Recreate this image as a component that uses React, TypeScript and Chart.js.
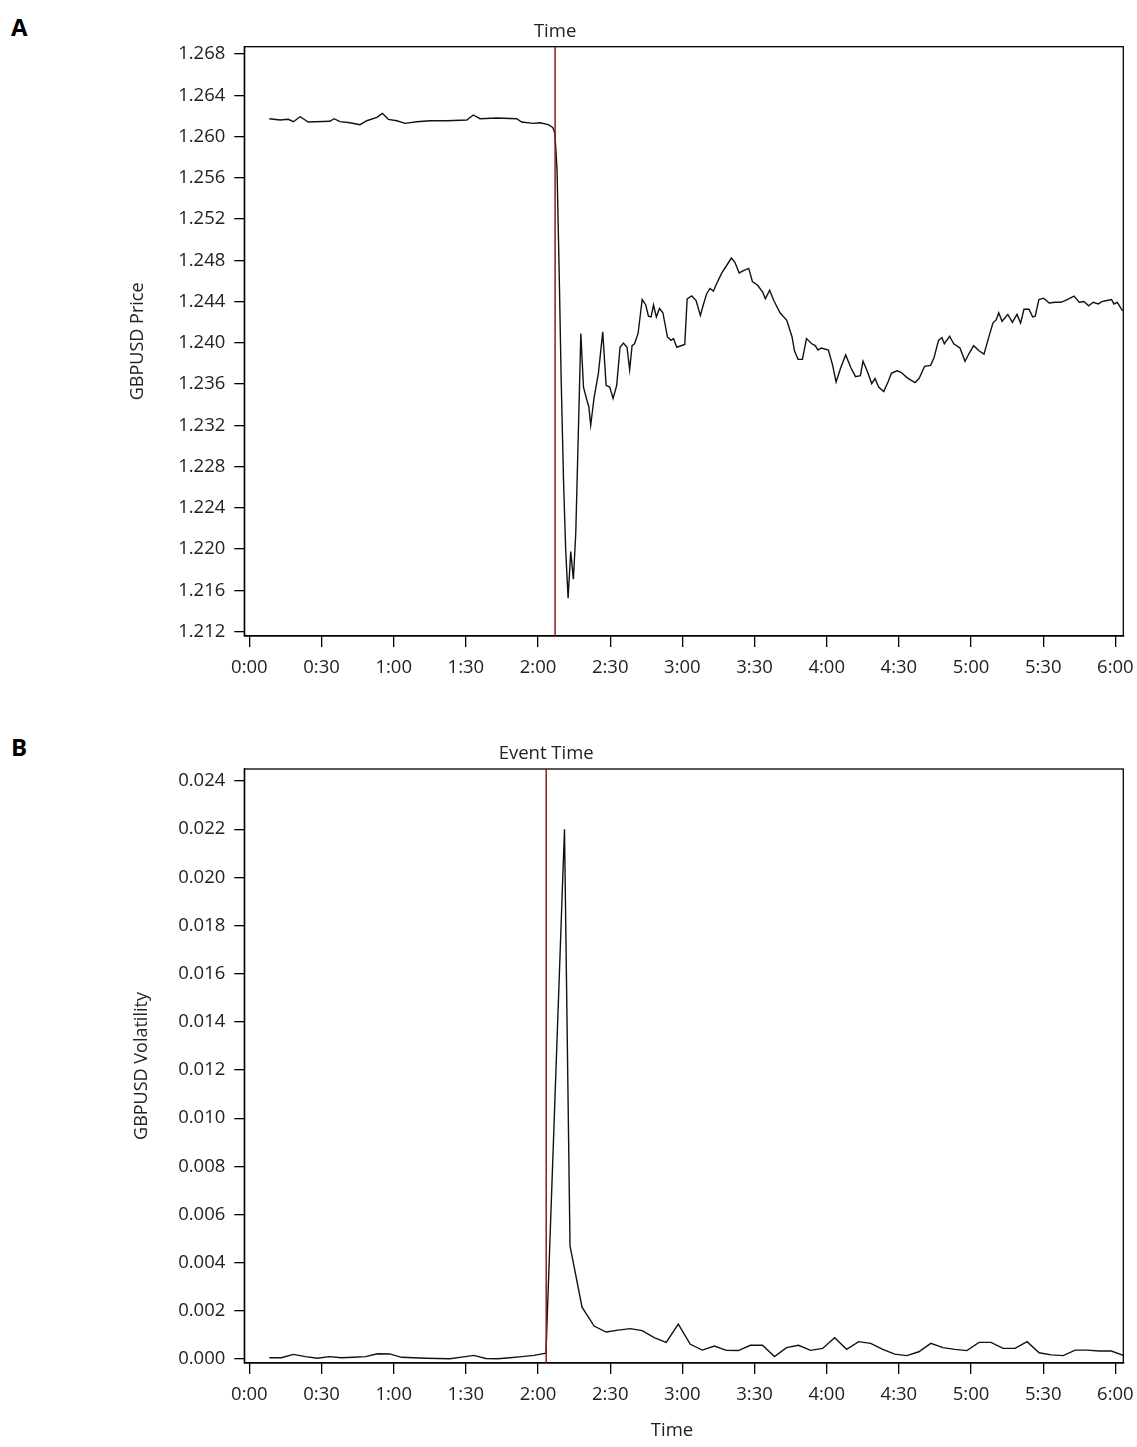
import React, { useEffect, useRef } from "react";
import { Chart, registerables } from "chart.js";
Chart.register(...registerables);

// ---- data (minutes after 0:00) ----
const priceMinutes = [8.3,12.8,16.2,18.3,21.1,24.5,33.5,35.2,37.7,41.9,46.0,48.8,53.0,55.3,57.8,61.3,64.7,69.6,75.1,82.0,90.4,93.1,95.9,102.8,111.1,113.2,118.0,120.8,124.3,126.1,127.0,127.9,128.8,129.6,130.6,131.5,132.5,133.6,134.7,135.7,136.8,137.8,138.9,140.4,141.1,141.9,143.3,145.1,146.9,148.3,149.8,151.2,152.7,154.1,155.5,157.0,158.1,159.1,160.1,161.6,163.3,164.8,165.9,167.0,168.0,169.2,170.5,171.9,173.8,175.3,176.3,177.7,181.0,182.0,183.9,185.7,187.5,188.6,190.1,191.5,192.9,194.0,196.4,197.8,200.4,201.9,203.6,205.4,207.6,209.1,211.2,213.4,214.5,216.3,218.0,220.6,223.4,225.6,226.6,228.1,229.9,231.6,233.8,235.2,236.4,237.8,240.7,242.4,243.9,245.8,247.9,250.1,252.0,254.0,255.1,256.8,258.7,260.1,261.6,263.7,265.5,266.9,269.2,270.9,273.5,276.7,278.4,280.7,283.2,284.6,286.5,287.9,288.9,291.1,292.8,295.4,297.5,299.4,301.1,303.3,305.4,307.2,309.1,310.5,311.5,312.9,315.3,317.2,319.1,320.6,322.0,324.1,325.6,326.7,328.2,330.2,332.5,335.0,337.4,340.0,342.8,345.0,346.9,348.9,350.8,352.9,354.4,356.5,358.4,359.4,360.8,363.0];
const priceValues = [1.26173,1.26160,1.26167,1.26144,1.26192,1.26141,1.26148,1.26173,1.26144,1.26134,1.26115,1.26153,1.26186,1.26225,1.26167,1.26153,1.26128,1.26144,1.26153,1.26153,1.26160,1.26209,1.26173,1.26180,1.26173,1.26141,1.26128,1.26134,1.26115,1.26089,1.26035,1.25683,1.24677,1.23671,1.22665,1.21994,1.21524,1.21976,1.21709,1.22162,1.23168,1.24090,1.23570,1.23436,1.23386,1.23201,1.23469,1.23704,1.24107,1.23588,1.23572,1.23461,1.23588,1.23957,1.23998,1.23957,1.23739,1.23973,1.23991,1.24091,1.24420,1.24367,1.24259,1.24252,1.24367,1.24252,1.24333,1.24292,1.24057,1.24024,1.24041,1.23957,1.23984,1.24427,1.24454,1.24410,1.24265,1.24359,1.24476,1.24527,1.24501,1.24561,1.24678,1.24728,1.24822,1.24779,1.24678,1.24701,1.24722,1.24595,1.24561,1.24493,1.24427,1.24510,1.24410,1.24292,1.24219,1.24057,1.23923,1.23840,1.23840,1.24041,1.23991,1.23973,1.23931,1.23950,1.23931,1.23789,1.23621,1.23756,1.23882,1.23756,1.23672,1.23682,1.23822,1.23729,1.23605,1.23654,1.23571,1.23527,1.23621,1.23705,1.23729,1.23715,1.23661,1.23615,1.23654,1.23773,1.23782,1.23856,1.24024,1.24051,1.23991,1.24064,1.23991,1.23950,1.23822,1.23906,1.23973,1.23923,1.23890,1.24041,1.24192,1.24225,1.24292,1.24209,1.24276,1.24198,1.24276,1.24192,1.24326,1.24326,1.24252,1.24259,1.24420,1.24433,1.24386,1.24393,1.24393,1.24420,1.24454,1.24393,1.24400,1.24359,1.24393,1.24377,1.24400,1.24410,1.24420,1.24377,1.24393,1.24309];

const volMinutes = [8.3,13.3,18.3,23.3,28.3,33.3,38.3,43.3,48.3,53.3,58.3,63.3,68.3,73.3,78.3,83.3,88.3,93.3,98.3,103.3,108.3,113.3,118.3,123.3,131.0,133.3,138.3,143.3,148.3,153.3,158.3,163.3,168.3,173.3,178.3,183.3,188.3,193.3,198.3,203.3,208.3,213.3,218.3,223.3,228.3,233.3,238.3,243.3,248.3,253.3,258.3,263.3,268.3,273.3,278.3,283.3,288.3,293.3,298.3,303.3,308.3,313.3,318.3,323.3,328.3,333.3,338.3,343.3,348.3,353.3,358.3,363.3];
const volValues = [0.00005,0.00005,0.00019,0.0001,0.00003,0.0001,0.00005,0.00007,0.0001,0.00022,0.00021,0.00007,0.00005,0.00003,0.00002,0.00001,0.00008,0.00015,0.00002,0.00001,0.00005,0.0001,0.00015,0.00024,0.0220,0.0047,0.00215,0.00137,0.00112,0.0012,0.00126,0.00118,0.00089,0.00069,0.00145,0.00061,0.00037,0.00054,0.00036,0.00035,0.00057,0.00057,0.0001,0.00047,0.00057,0.00036,0.00044,0.00088,0.0004,0.00072,0.00065,0.0004,0.0002,0.00014,0.0003,0.00065,0.00047,0.0004,0.00035,0.00069,0.00069,0.00044,0.00044,0.00072,0.00026,0.00017,0.00014,0.00037,0.00037,0.00033,0.00033,0.00015];

const timeTicks = [0,30,60,90,120,150,180,210,240,270,300,330,360];
const priceTicks = [1.212,1.216,1.220,1.224,1.228,1.232,1.236,1.240,1.244,1.248,1.252,1.256,1.260,1.264,1.268];
const volTicks = [0,0.002,0.004,0.006,0.008,0.010,0.012,0.014,0.016,0.018,0.020,0.022,0.024];
const priceEventMinute = 127.1;
const volEventMinute = 123.4;

const FONT = "'Open Sans', 'Noto Sans', sans-serif";
const TXT = "#222";
const FS = 18.5;

function fmtTime(m: number) {
  const h = Math.floor(m / 60);
  const mm = Math.round(m % 60);
  return h + ":" + (mm < 10 ? "0" : "") + mm;
}

type PanelCfg = {
  xs: number[]; ys: number[]; yTicks: number[]; yMin: number; yMax: number;
  eventMinute: number; topLabel: string; yTitle: string; yTitleX: number;
  padTop: number; padBottom: number; xAxisH: number; tickPad: number; bottomTitle?: string;
};

function makeChart(canvas: HTMLCanvasElement, c: PanelCfg) {
  const pts = c.xs.map((x, i) => ({ x, y: c.ys[i] }));
  const overlay = {
    id: "overlay",
    afterDraw(chart: any) {
      const { ctx, chartArea: a, scales } = chart;
      ctx.save();
      ctx.strokeStyle = "#000";
      ctx.lineWidth = 1.3;
      ctx.strokeRect(a.left, a.top, a.right - a.left, a.bottom - a.top);
      const ex = scales.x.getPixelForValue(c.eventMinute);
      ctx.strokeStyle = "#8b1a1a";
      ctx.lineWidth = 1.5;
      ctx.beginPath();
      ctx.moveTo(ex, a.top);
      ctx.lineTo(ex, a.bottom);
      ctx.stroke();
      ctx.fillStyle = TXT;
      ctx.font = FS + "px " + FONT;
      ctx.textAlign = "center";
      ctx.textBaseline = "middle";
      ctx.fillText(c.topLabel, ex, a.top - 15);
      ctx.save();
      ctx.translate(c.yTitleX, (a.top + a.bottom) / 2);
      ctx.rotate(-Math.PI / 2);
      ctx.font = "18px " + FONT;
      ctx.fillText(c.yTitle, 0, 0);
      ctx.restore();
      if (c.bottomTitle) {
        ctx.font = FS + "px " + FONT;
        ctx.fillText(c.bottomTitle, 672, a.bottom + 68);
      }
      ctx.restore();
    },
  };
  return new Chart(canvas, {
    type: "line",
    data: {
      datasets: [{
        data: pts,
        borderColor: "#111",
        borderWidth: 1.4,
        pointRadius: 0,
        tension: 0,
        fill: false,
      }],
    },
    options: {
      animation: false,
      responsive: false,
      maintainAspectRatio: false,
      layout: { padding: { left: 0, right: 13.7, top: c.padTop, bottom: c.padBottom } },
      plugins: { legend: { display: false }, tooltip: { enabled: false } },
      scales: {
        x: {
          type: "linear",
          min: -2.1,
          max: 363.3,
          afterBuildTicks: (s: any) => { s.ticks = timeTicks.map((v) => ({ value: v })); },
          afterFit: (s: any) => { s.height = c.xAxisH; s.paddingLeft = 0; s.paddingRight = 0; },
          ticks: { callback: (v: any) => fmtTime(Number(v)), color: TXT, font: { family: FONT, size: FS }, padding: c.tickPad, maxRotation: 0, autoSkip: false },
          grid: { drawOnChartArea: false, tickLength: 11, color: "#000", lineWidth: 1.3 },
          border: { display: true, color: "#000", width: 1.3 },
        },
        y: {
          type: "linear",
          min: c.yMin,
          max: c.yMax,
          afterBuildTicks: (s: any) => { s.ticks = c.yTicks.map((v) => ({ value: v })); },
          afterFit: (s: any) => { s.width = 244.3; s.paddingTop = 0; s.paddingBottom = 0; },
          ticks: { callback: (v: any) => Number(v).toFixed(3), color: TXT, font: { family: FONT, size: FS }, padding: 9, autoSkip: false },
          grid: { drawOnChartArea: false, tickLength: 10, color: "#000", lineWidth: 1.3 },
          border: { display: true, color: "#000", width: 1.3 },
        },
      },
    },
    plugins: [overlay],
  } as any);
}

export default function App() {
  const r1 = useRef<HTMLCanvasElement>(null);
  const r2 = useRef<HTMLCanvasElement>(null);
  useEffect(() => {
    const c1 = makeChart(r1.current!, {
      xs: priceMinutes, ys: priceValues, yTicks: priceTicks, yMin: 1.21158, yMax: 1.26871,
      eventMinute: priceEventMinute, topLabel: "Time", yTitle: "GBPUSD Price", yTitleX: 138,
      padTop: 46.7, padBottom: 4, xAxisH: 60, tickPad: 10,
    });
    const c2 = makeChart(r2.current!, {
      xs: volMinutes, ys: volValues, yTicks: volTicks, yMin: -0.000166, yMax: 0.0245,
      eventMinute: volEventMinute, topLabel: "Event Time", yTitle: "GBPUSD Volatility", yTitleX: 142,
      padTop: 69, padBottom: 24, xAxisH: 60, tickPad: 10, bottomTitle: "Time",
    });
    return () => { c1.destroy(); c2.destroy(); };
  }, []);
  const lbl: React.CSSProperties = { position: "absolute", left: 11, fontFamily: FONT, fontWeight: 700, fontSize: 24, color: "#000", lineHeight: "24px" };
  return (
    <div style={{ position: "absolute", left: 0, top: 0, width: 1137, height: 1447, background: "#fff" }}>
      <div style={{ ...lbl, top: 15 }}>A</div>
      <div style={{ ...lbl, top: 735 }}>B</div>
      <canvas ref={r1} width={1137} height={700} style={{ position: "absolute", left: 0, top: 0 }} />
      <canvas ref={r2} width={1137} height={747} style={{ position: "absolute", left: 0, top: 700 }} />
    </div>
  );
}
